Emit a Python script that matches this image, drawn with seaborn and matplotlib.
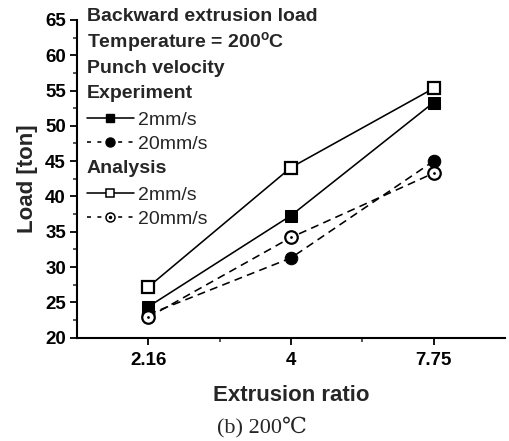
import numpy as np
import matplotlib
matplotlib.use("Agg")
import matplotlib.pyplot as plt
from matplotlib.lines import Line2D
from matplotlib.legend_handler import HandlerTuple
import seaborn as sns

# ---- data ----
categories = ["2.16", "4", "7.75"]
exp_2mm = [24.4, 37.3, 53.3]
exp_20mm = [23.3, 31.3, 45.0]
ana_2mm = [27.2, 44.1, 55.3]
ana_20mm = [22.9, 34.2, 43.3]
y_ticks = [20, 25, 30, 35, 40, 45, 50, 55, 60, 65]

sns.set_style("ticks")
plt.rcParams['font.family'] = ['Liberation Sans', 'DejaVu Sans']
plt.rcParams['mathtext.fontset'] = 'custom'
plt.rcParams['mathtext.bf'] = 'Liberation Sans:bold'
plt.rcParams['mathtext.rm'] = 'Liberation Sans'

fig = plt.figure(figsize=(5.1, 4.41), dpi=100)
ax = fig.add_axes([0.151, 0.234, 0.839, 0.721])

pos = np.arange(1, len(categories) + 1)
lw = 1.15
dash = (0, (5, 3.3))
ms = 8

sns.lineplot(x=pos, y=exp_2mm, ax=ax, color='k', lw=lw, marker='s', markersize=ms,
             markerfacecolor='k', markeredgecolor='k', zorder=3)
sns.lineplot(x=pos, y=exp_20mm, ax=ax, color='k', lw=lw, linestyle=dash, marker='o',
             markersize=ms + 1, markerfacecolor='k', markeredgecolor='k', zorder=3)
sns.lineplot(x=pos, y=ana_2mm, ax=ax, color='k', lw=lw, marker='s', markersize=ms,
             markerfacecolor='white', markeredgecolor='k', markeredgewidth=1.6, zorder=4)
sns.lineplot(x=pos, y=ana_20mm, ax=ax, color='k', lw=lw, linestyle=dash, marker='o',
             markersize=ms + 1, markerfacecolor='white', markeredgecolor='k',
             markeredgewidth=1.6, zorder=4)
sns.scatterplot(x=pos, y=ana_20mm, ax=ax, color='k', s=4, marker='o', edgecolor='k',
                linewidth=0, zorder=5)

ax.set_xlim(0.5, 3.5)
ax.set_ylim(20, 65)
ax.set_xticks(pos)
ax.set_xticklabels(categories)
ax.set_xticks([1.5, 2.5], minor=True)
ax.set_yticks(y_ticks)
ax.set_yticks(np.arange(22.5, 65, 5), minor=True)
ax.tick_params(axis='both', which='major', direction='out', length=5, width=1.3,
               labelsize=13.5, colors='k', pad=3)
ax.tick_params(axis='x', which='major', pad=5)
ax.tick_params(axis='both', which='minor', direction='out', length=3, width=1.1)
for lab in ax.get_xticklabels() + ax.get_yticklabels():
    lab.set_fontweight('bold')
sns.despine(ax=ax)
for s in ['left', 'bottom']:
    ax.spines[s].set_linewidth(1.5)
    ax.spines[s].set_color('k')

ax.set_ylabel('Load [ton]', fontsize=16, fontweight='bold', labelpad=5)
ax.set_xlabel('Extrusion ratio', fontsize=16, fontweight='bold', labelpad=12)

fig.text(0.514, 0.032, '(b) 200\u2103', fontsize=16, ha='center', va='center',
         family=['Liberation Serif', 'DejaVu Serif'])

# ---- legend-like annotation ----
hx = 0.023
fs = 14
headers = [("Backward extrusion load", 1.010), ("Temperature = 200$^{\\mathbf{o}}$C", 0.929),
           ("Punch velocity", 0.847), ("Experiment", 0.768), ("Analysis", 0.533)]
for txt, yy in headers:
    ax.text(hx, yy, txt, transform=ax.transAxes, fontsize=fs, fontweight='bold',
            ha='left', va='center', clip_on=False)

h_e2 = Line2D([], [], color='k', lw=lw, marker='s', markersize=5.5, markerfacecolor='k')
h_e20 = Line2D([], [], color='k', lw=lw, linestyle=(0, (2.5, 4.0)), marker='o', markersize=6.5,
               markerfacecolor='k')
h_a2 = Line2D([], [], color='k', lw=lw, marker='s', markersize=5.5, markerfacecolor='white',
              markeredgewidth=1.1)
h_a20a = Line2D([], [], color='k', lw=lw, linestyle=(0, (2.5, 4.0)), marker='o', markersize=6.5,
                markerfacecolor='white', markeredgewidth=1.1)
h_a20b = Line2D([], [], color='k', lw=0, marker='o', markersize=1.5)

common = dict(frameon=False, fontsize=fs, handlelength=2.4, handletextpad=0.25,
              labelspacing=0.32, borderpad=0, borderaxespad=0,
              loc='upper left')
leg1 = ax.legend([h_e2, h_e20], ['2mm/s', '20mm/s'], bbox_to_anchor=(hx, 0.712), **common)
ax.add_artist(leg1)
leg2 = ax.legend([h_a2, (h_a20a, h_a20b)], ['2mm/s', '20mm/s'],
                 handler_map={tuple: HandlerTuple(ndivide=1)},
                 bbox_to_anchor=(hx, 0.476), **common)

fig.savefig('out.png', dpi=100)
